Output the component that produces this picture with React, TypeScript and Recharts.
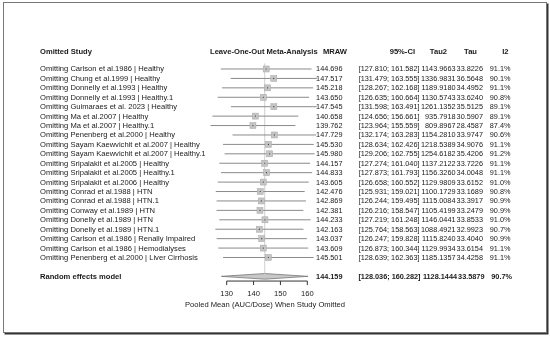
import React from 'react';
import { ComposedChart, Scatter, Area, XAxis, YAxis, ErrorBar, ReferenceLine } from 'recharts';

const studies = [
  'Omitting Carlson et al.1986 | Healthy',
  'Omitting Chung et al.1999 | Healthy',
  'Omitting Donnelly et al.1993 | Healthy',
  'Omitting Donnelly et al.1993 | Healthy.1',
  'Omitting Guimaraes et al. 2023 | Healthy',
  'Omitting Ma et al.2007 | Healthy',
  'Omitting Ma et al.2007 | Healthy.1',
  'Omitting Penenberg et al.2000 | Healthy',
  'Omitting Sayam Kaewvichit et al.2007 | Healthy',
  'Omitting Sayam Kaewvichit et al.2007 | Healthy.1',
  'Omitting Sripalakit et al.2005 | Healthy',
  'Omitting Sripalakit et al.2005 | Healthy.1',
  'Omitting Sripalakit et al.2006 | Healthy',
  'Omitting Conrad et al.1988 | HTN',
  'Omitting Conrad et al.1988 | HTN.1',
  'Omitting Conway et al.1989 | HTN',
  'Omitting Donelly et al.1989 | HTN',
  'Omitting Donelly et al.1989 | HTN.1',
  'Omitting Carlson et al.1986 | Renally Impaired',
  'Omitting Carlson et al.1986 | Hemodialyses',
  'Omitting Penenberg et al.2000 | Liver Cirrhosis',
];
const mraw = [144.696, 147.517, 145.218, 143.650, 147.545, 140.658, 139.762, 147.729, 145.530, 145.980, 144.157, 144.833, 143.605, 142.476, 142.869, 142.381, 144.233, 142.163, 143.037, 143.609, 145.501];
const ciLower = [127.810, 131.479, 128.267, 126.635, 131.598, 124.656, 123.964, 132.174, 128.634, 129.206, 127.274, 127.873, 126.658, 125.931, 126.244, 126.216, 127.219, 125.764, 126.247, 126.873, 128.639];
const ciUpper = [161.582, 163.555, 162.168, 160.664, 163.491, 156.661, 155.559, 163.283, 162.426, 162.755, 161.040, 161.793, 160.552, 159.021, 159.495, 158.547, 161.248, 158.563, 159.828, 160.344, 162.363];
const tau2 = [1143.9663, 1336.9831, 1189.9180, 1130.5743, 1261.1352, 935.7918, 809.8967, 1154.2810, 1218.5389, 1254.6182, 1137.2122, 1156.3260, 1129.9809, 1100.1729, 1115.0084, 1105.4199, 1146.0441, 1088.4921, 1115.8240, 1129.9934, 1185.1357];
const tau = [33.8226, 36.5648, 34.4952, 33.6240, 35.5125, 30.5907, 28.4587, 33.9747, 34.9076, 35.4206, 33.7226, 34.0048, 33.6152, 33.1689, 33.3917, 33.2479, 33.8533, 32.9923, 33.4040, 33.6154, 34.4258];
const i2 = [91.1, 90.1, 91.1, 90.8, 89.1, 89.1, 87.4, 90.6, 91.1, 91.2, 91.1, 91.1, 91.0, 90.8, 90.9, 90.9, 91.0, 90.7, 90.9, 91.1, 91.1];

const pooledLabel = 'Random effects model';
const pooledMraw = 144.159;
const pooledLower = 128.036;
const pooledUpper = 160.282;
const pooledTau2 = 1128.1444;
const pooledTau = 33.5879;
const pooledI2 = 90.7;

const headers = ['Omitted Study', 'Leave-One-Out Meta-Analysis', 'MRAW', '95%-CI', 'Tau2', 'Tau', 'I2'];
const xTicks = [130, 140, 150, 160];
const xTitle = 'Pooled Mean (AUC/Dose) When Study Omitted';

// layout (row positions in y units)
const HEADER_Y = -1.85;
const POOLED_Y = 22;
const DIAMOND_HALF = 0.3;

const rows = studies.map((s, i) => ({
  x: mraw[i],
  y: i,
  err: [mraw[i] - ciLower[i], ciUpper[i] - mraw[i]],
}));
const diamond = [
  { x: pooledLower, d: [POOLED_Y, POOLED_Y] },
  { x: pooledMraw, d: [POOLED_Y - DIAMOND_HALF, POOLED_Y + DIAMOND_HALF] },
  { x: pooledUpper, d: [POOLED_Y, POOLED_Y] },
];
const yTicks = [HEADER_Y, ...studies.map((_, i) => i), POOLED_Y];

const FONT = '"Liberation Sans", Arial, Helvetica, sans-serif';
const FS = 7.6;
const FSN = 7.3;
const TXT = '#1a1a1a';
// right edges of numeric columns (normal rows / bold pooled row)
const COLS_N = { study: 40, mraw: 342.5, ci: 419.5, tau2: 455.5, tau: 483, i2: 510.5 };
const COLS_B = { study: 40, mraw: 342.5, ci: 420.5, tau2: 457, tau: 484.5, i2: 512 };

function RowTick(props: any) {
  const { y, payload } = props;
  const v = payload && payload.value;
  const common = { fontFamily: FONT, fontSize: FS, fill: TXT, dominantBaseline: 'central' as any };
  if (v === HEADER_Y) {
    return (
      <g>
        <text {...common} x={COLS_N.study} y={y} fontWeight="bold">{headers[0]}</text>
        <text {...common} x={210} y={y} fontWeight="bold">{headers[1]}</text>
        <text {...common} x={347} y={y} fontWeight="bold" textAnchor="end">{headers[2]}</text>
        <text {...common} x={415} y={y} fontWeight="bold" textAnchor="end">{headers[3]}</text>
        <text {...common} x={447} y={y} fontWeight="bold" textAnchor="end">{headers[4]}</text>
        <text {...common} x={477} y={y} fontWeight="bold" textAnchor="end">{headers[5]}</text>
        <text {...common} x={508.5} y={y} fontWeight="bold" textAnchor="end">{headers[6]}</text>
      </g>
    );
  }
  let label: string, m: number, l: number, u: number, t2: number, t: number, ii: number, bold = false;
  if (v === POOLED_Y) {
    label = pooledLabel; m = pooledMraw; l = pooledLower; u = pooledUpper; t2 = pooledTau2; t = pooledTau; ii = pooledI2; bold = true;
  } else {
    const i = v as number;
    if (studies[i] == null) return <g />;
    label = studies[i]; m = mraw[i]; l = ciLower[i]; u = ciUpper[i]; t2 = tau2[i]; t = tau[i]; ii = i2[i];
  }
  const fw = bold ? 'bold' : 'normal';
  const C = bold ? COLS_B : COLS_N;
  const num = { ...common, fontSize: FSN, fontWeight: fw, textAnchor: 'end' as any };
  return (
    <g>
      <text {...common} fontWeight={fw} x={C.study} y={y}>{label}</text>
      <text {...num} x={C.mraw} y={y}>{m.toFixed(3)}</text>
      <text {...num} x={C.ci} y={y}>{`[${l.toFixed(3)}; ${u.toFixed(3)}]`}</text>
      <text {...num} x={C.tau2} y={y}>{t2.toFixed(4)}</text>
      <text {...num} x={C.tau} y={y}>{t.toFixed(4)}</text>
      <text {...num} x={C.i2} y={y}>{ii.toFixed(1) + '%'}</text>
    </g>
  );
}

function SquareShape(props: any) {
  const { cx, cy } = props;
  if (cx == null || cy == null) return null;
  return (
    <g>
      <rect x={cx - 3} y={cy - 3} width={6} height={6} fill="#c4c4c4" stroke="#a8a8a8" strokeWidth={0.5} />
      <circle cx={cx} cy={cy} r={0.6} fill="#333" />
    </g>
  );
}

export default function App() {
  return (
    <div style={{ position: 'absolute', left: 0, top: 0, width: 550, height: 337, background: '#fff' }}>
      <div style={{ filter: 'grayscale(1)' }}>
        <ComposedChart
          width={550}
          height={337}
          margin={{ top: 40.725, right: 220, bottom: 25.94, left: 199 }}
        >
          <XAxis
            type="number"
            dataKey="x"
            domain={[120.062, 168.449]}
            ticks={xTicks}
            interval={0}
            axisLine={false}
            tickLine={{ stroke: '#333' }}
            tickSize={4}
            tickMargin={6}
            height={30}
            tick={{ fontSize: FS, fill: TXT, fontFamily: FONT }}
            label={{ value: xTitle, position: 'insideBottom', offset: 4, fontSize: FS, fill: TXT, fontFamily: FONT }}
          />
          <YAxis
            type="number"
            dataKey="y"
            domain={[-3, 22.5]}
            reversed
            ticks={yTicks}
            interval={0}
            width={1}
            axisLine={false}
            tickLine={false}
            tick={(p: any) => <RowTick {...p} />}
          />
          <ReferenceLine
            segment={[{ x: pooledMraw, y: -0.6 }, { x: pooledMraw, y: POOLED_Y - DIAMOND_HALF }]}
            stroke="#cfcfcf"
            strokeWidth={1}
            ifOverflow="visible"
          />
          <ReferenceLine
            segment={[{ x: xTicks[0], y: 22.5 }, { x: xTicks[xTicks.length - 1], y: 22.5 }]}
            stroke="#333"
            strokeWidth={1}
            ifOverflow="visible"
          />
          <Area
            data={diamond}
            dataKey="d"
            type="linear"
            stroke="#777"
            strokeWidth={0.8}
            fill="#c8c8c8"
            fillOpacity={1}
            isAnimationActive={false}
            dot={false}
            activeDot={false}
          />
          <Scatter data={rows} shape={<SquareShape />} isAnimationActive={false}>
            <ErrorBar dataKey="err" direction="x" width={0} stroke="#8a8a8a" strokeWidth={1} />
          </Scatter>
        </ComposedChart>
      </div>
      <div style={{ position: 'absolute', left: 3, top: 2, width: 542, height: 329, border: '1px solid #777', boxShadow: '1.5px 1.5px 0 #333', pointerEvents: 'none' }} />
    </div>
  );
}
